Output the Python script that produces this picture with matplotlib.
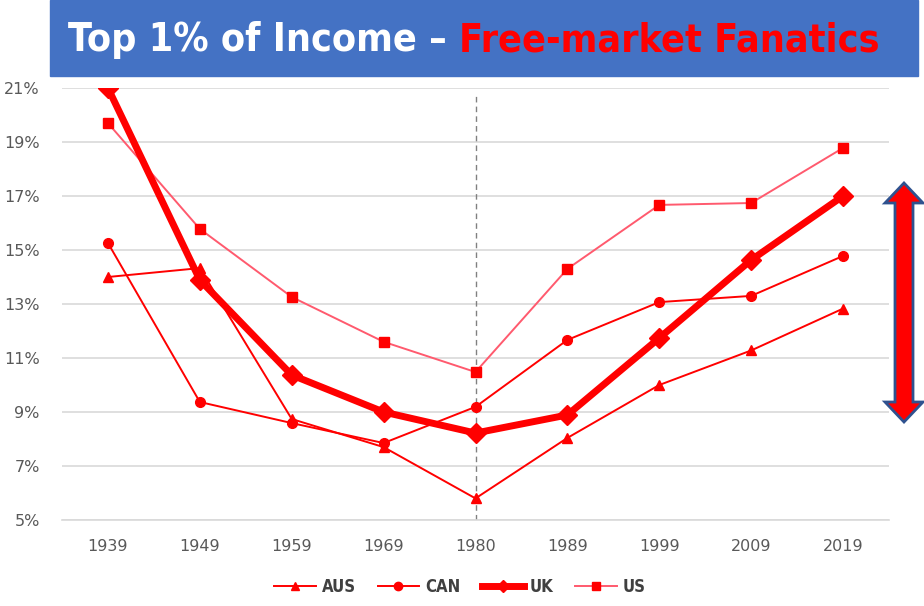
import matplotlib.pyplot as plt
import matplotlib.patches as mpatches
import numpy as np

years = ['1939', '1949', '1959', '1969', '1980', '1989', '1999', '2009', '2019']
aus = [14.0, 14.33, 8.74, 7.7, 5.8, 8.04, 10.0, 11.28, 12.83]
can = [15.26, 9.37, 8.59, 7.85, 9.19, 11.67, 13.07, 13.3, 14.78]
uk = [21.0, 13.89, 10.37, 9.0, 8.22, 8.89, 11.74, 14.63, 17.0]
us = [19.7, 15.78, 13.26, 11.6, 10.48, 14.3, 16.67, 16.74, 18.78]
yticks = [5, 7, 9, 11, 13, 15, 17, 19, 21]

W, H = 924, 606
fig = plt.figure(figsize=(W / 100, H / 100), dpi=100)
ax = fig.add_axes([62 / W, 1 - 520 / H, 827 / W, 432 / H])

x = np.arange(len(years))
red = '#FF0000'
ax.plot(x, aus, color=red, lw=1.4, marker='^', ms=7, label='AUS', zorder=3)
ax.plot(x, can, color=red, lw=1.4, marker='o', ms=7, label='CAN', zorder=3)
ax.plot(x, uk, color=red, lw=5, marker='D', ms=10, label='UK', zorder=4)
ax.plot(x, us, color='#FF5A6E', lw=1.4, marker='s', ms=6.5, mfc=red, mec=red, label='US', zorder=3)

ax.axvline(4, ymin=0, ymax=0.985, color='#808080', lw=1, ls=(0, (4, 3)), zorder=2)

ax.set_xlim(-0.5, len(years) - 0.5)
ax.set_ylim(5, 21)
ax.set_yticks(yticks)
ax.set_yticklabels([f'{v}%' for v in yticks])
ax.set_xticks(x)
ax.set_xticklabels(years)
ax.yaxis.grid(True, color='#D9D9D9', lw=1.2, zorder=0)
ax.set_axisbelow(True)
for s in ['top', 'right', 'left']:
    ax.spines[s].set_visible(False)
ax.spines['bottom'].set_color('#D9D9D9')
ax.spines['bottom'].set_linewidth(1.2)
ax.tick_params(length=0, labelsize=11.5, labelcolor='#595959', pad=14)
ax.tick_params(axis='y', pad=16)

leg = ax.legend(loc='upper center', bbox_to_anchor=(0.481, -0.1), ncol=4, frameon=False,
                handlelength=2.5, columnspacing=1.3, handletextpad=0.35,
                prop={'size': 12, 'weight': 'bold', 'stretch': 'condensed'})
for t in leg.get_texts():
    t.set_color('#404040')
hs = leg.legend_handles
hs[2].set_markersize(6)
hs[0].set_markersize(6)
hs[1].set_markersize(6)
hs[3].set_markersize(6)

# title box
fig.patches.append(mpatches.Rectangle((50 / W, 1 - 76 / H), 868 / W, 76 / H,
                                      transform=fig.transFigure, color='#4472C4', zorder=0))
tkw = dict(fontweight='bold', family='DejaVu Sans', stretch='condensed', va='center', ha='left')
t1 = fig.text(68 / W, 1 - 40 / H, 'Top 1% of Income \u2013 ', color='white', fontsize=34, **tkw)
t2 = fig.text(0, 1 - 40 / H, 'Free-market Fanatics', color=red, fontsize=34, **tkw)
fig.canvas.draw()
r = fig.canvas.get_renderer()
wtot = t1.get_window_extent(r).width + t2.get_window_extent(r).width
fs = 34 * 812 / wtot
t1.set_fontsize(fs)
t2.set_fontsize(fs)
fig.canvas.draw()
bb = t1.get_window_extent(r)
t2.set_x(bb.x1 / W)

# double arrow on the right
pts = [(904, 183), (923, 203), (913, 203), (913, 402), (923, 402), (904, 422),
       (885, 402), (895, 402), (895, 203), (885, 203)]
arrow = mpatches.Polygon([(px / W, 1 - py / H) for px, py in pts], closed=True,
                         transform=fig.transFigure, facecolor=red, edgecolor='#2F528F', lw=2)
fig.patches.append(arrow)

fig.savefig('out.png', dpi=100)
